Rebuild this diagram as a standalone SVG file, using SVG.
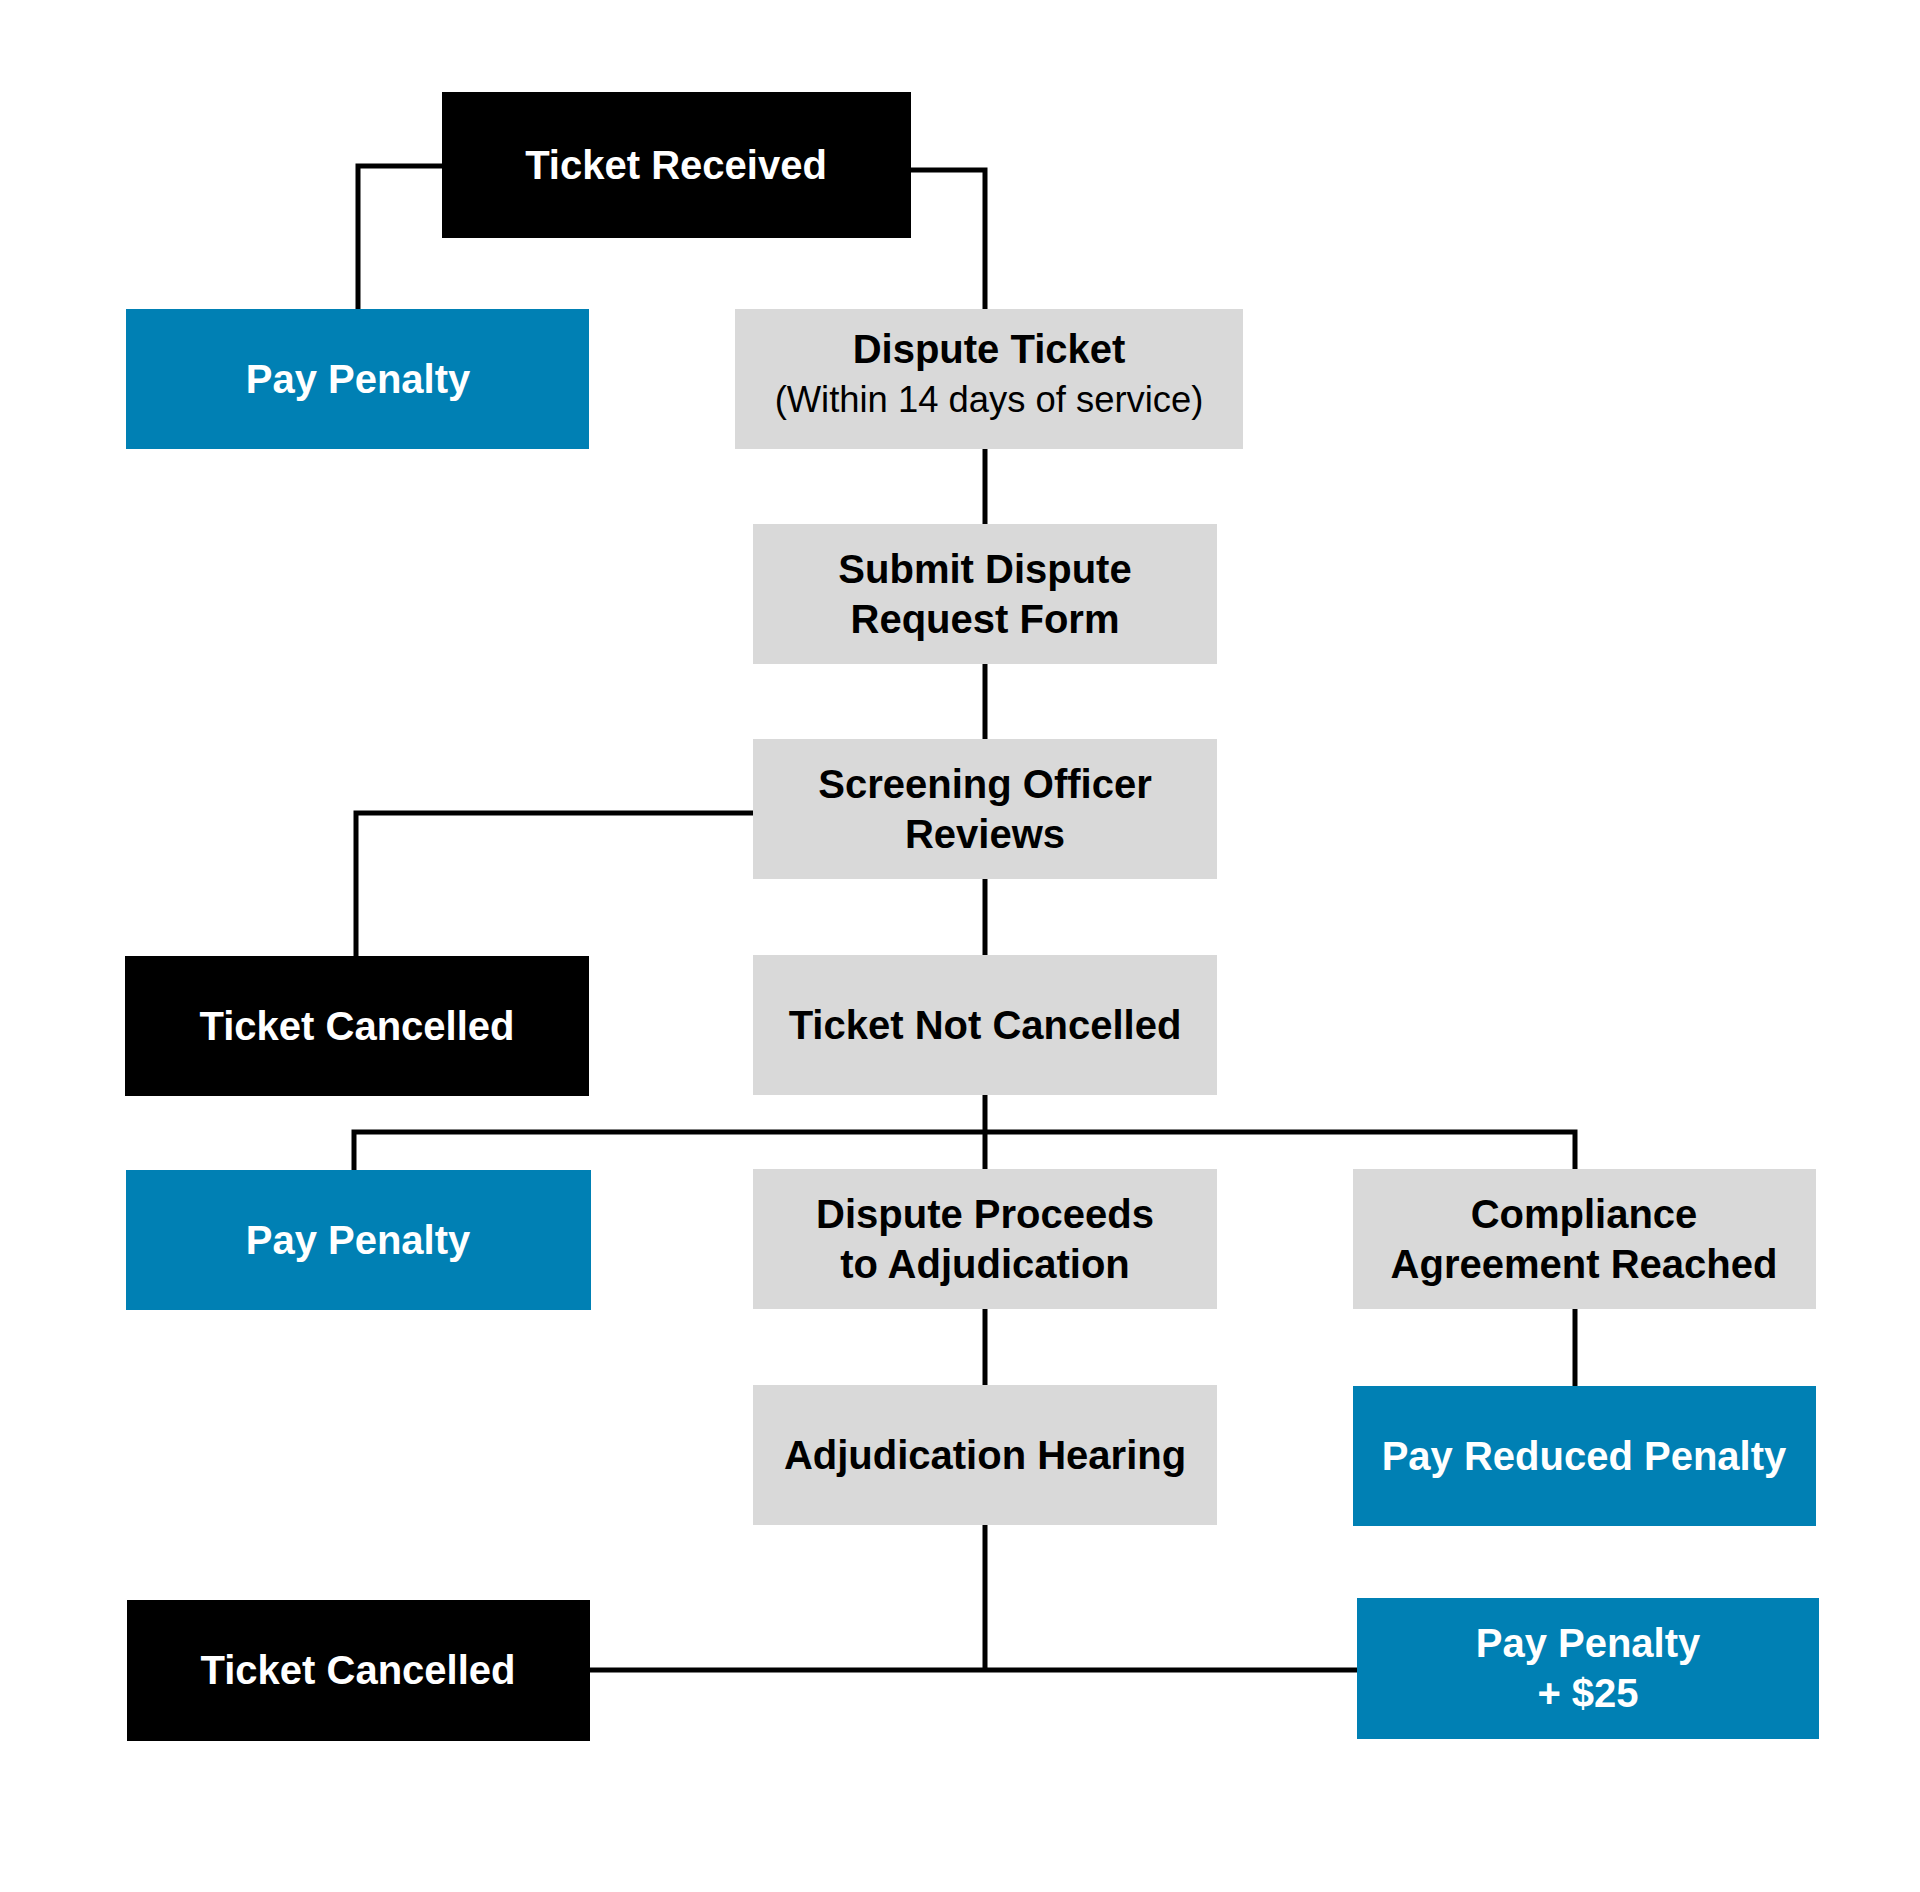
<svg xmlns="http://www.w3.org/2000/svg" width="1920" height="1892" viewBox="0 0 1920 1892">
<style>
.b{fill:#000}.g{fill:#d9d9d9}.u{fill:#0080b4}
text{font-family:"Liberation Sans",Arial,sans-serif;font-weight:bold;font-size:40px;text-anchor:middle}
.w{fill:#fff}.k{fill:#000}
.r{font-weight:normal;font-size:36.4px}
.c{fill:none;stroke:#000;stroke-width:5}
</style>
<rect width="1920" height="1892" fill="#fff"/>
<g id="connectors">
<path class="c" d="M442,166 H358 V309"/>
<path class="c" d="M911,170 H985 V309"/>
<path class="c" d="M985,449 V524"/>
<path class="c" d="M985,664 V739"/>
<path class="c" d="M753,813 H356 V956"/>
<path class="c" d="M985,879 V955"/>
<path class="c" d="M985,1095 V1169"/>
<path class="c" d="M354,1170 V1132 H1575 V1170"/>
<path class="c" d="M985,1309 V1385"/>
<path class="c" d="M1575,1309 V1386"/>
<path class="c" d="M985,1525 V1670"/>
<path class="c" d="M590,1670 H1357"/>
</g>
<g id="ticket-received"><rect class="b" x="442" y="92" width="469" height="146"/><text class="w" x="676" y="179">Ticket Received</text></g>
<g id="pay-penalty-1"><rect class="u" x="126" y="309" width="463" height="140"/><text class="w" x="358" y="393">Pay Penalty</text></g>
<g id="dispute-ticket"><rect class="g" x="735" y="309" width="508" height="140"/><text class="k" x="989" y="363">Dispute Ticket</text><text class="k r" x="989" y="412">(Within 14 days of service)</text></g>
<g id="submit-dispute"><rect class="g" x="753" y="524" width="464" height="140"/><text class="k" x="985" y="583">Submit Dispute</text><text class="k" x="985" y="633">Request Form</text></g>
<g id="screening"><rect class="g" x="753" y="739" width="464" height="140"/><text class="k" x="985" y="798">Screening Officer</text><text class="k" x="985" y="848">Reviews</text></g>
<g id="ticket-cancelled-1"><rect class="b" x="125" y="956" width="464" height="140"/><text class="w" x="357" y="1040">Ticket Cancelled</text></g>
<g id="ticket-not-cancelled"><rect class="g" x="753" y="955" width="464" height="140"/><text class="k" x="985" y="1039">Ticket Not Cancelled</text></g>
<g id="pay-penalty-2"><rect class="u" x="126" y="1170" width="465" height="140"/><text class="w" x="358" y="1254">Pay Penalty</text></g>
<g id="dispute-proceeds"><rect class="g" x="753" y="1169" width="464" height="140"/><text class="k" x="985" y="1228">Dispute Proceeds</text><text class="k" x="985" y="1278">to Adjudication</text></g>
<g id="compliance"><rect class="g" x="1353" y="1169" width="463" height="140"/><text class="k" x="1584" y="1228">Compliance</text><text class="k" x="1584" y="1278">Agreement Reached</text></g>
<g id="adjudication-hearing"><rect class="g" x="753" y="1385" width="464" height="140"/><text class="k" x="985" y="1469">Adjudication Hearing</text></g>
<g id="pay-reduced"><rect class="u" x="1353" y="1386" width="463" height="140"/><text class="w" x="1584" y="1470">Pay Reduced Penalty</text></g>
<g id="ticket-cancelled-2"><rect class="b" x="127" y="1600" width="463" height="141"/><text class="w" x="358" y="1684">Ticket Cancelled</text></g>
<g id="pay-penalty-25"><rect class="u" x="1357" y="1598" width="462" height="141"/><text class="w" x="1588" y="1657">Pay Penalty</text><text class="w" x="1588" y="1707">+ $25</text></g>
</svg>
